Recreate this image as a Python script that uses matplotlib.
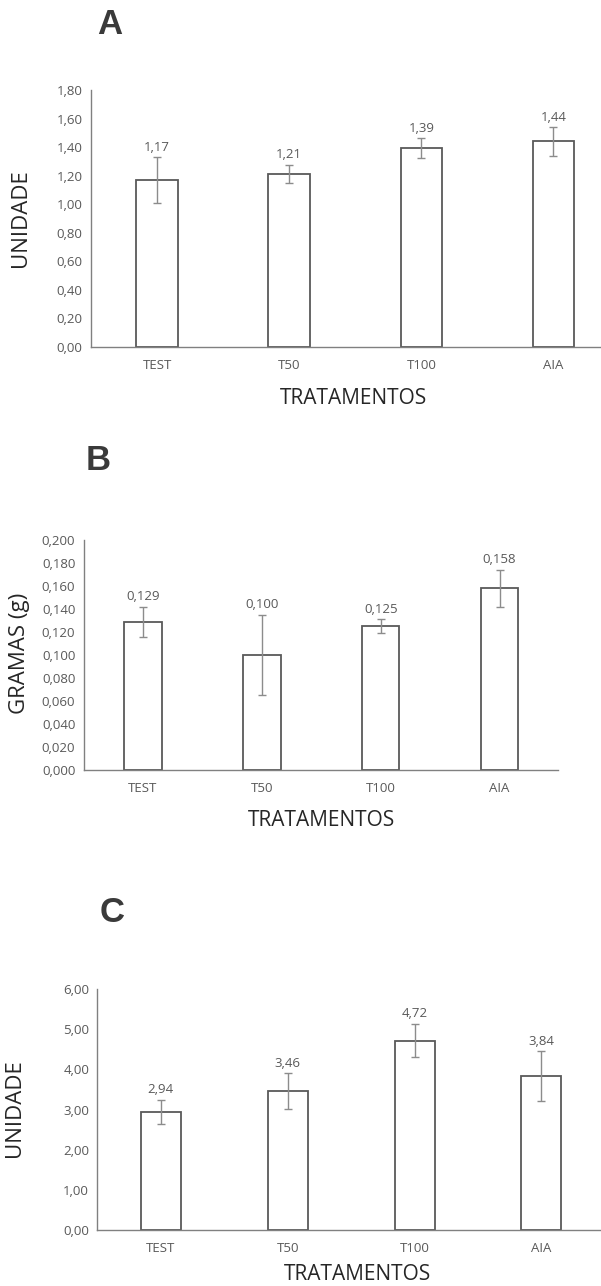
# Three bar charts with error bars (A, B, C)
import matplotlib.pyplot as plt

plt.rcParams['font.family'] = ['Open Sans', 'DejaVu Sans']

# Data
categories = ['TEST', 'T50', 'T100', 'AIA']

values_A = [1.17, 1.21, 1.39, 1.44]
errors_A = [0.16, 0.065, 0.07, 0.10]

values_B = [0.129, 0.100, 0.125, 0.158]
errors_B = [0.013, 0.035, 0.006, 0.016]

values_C = [2.94, 3.46, 4.72, 3.84]
errors_C = [0.31, 0.45, 0.42, 0.62]

W, H = 601, 1286
fig = plt.figure(figsize=(W / 100, H / 100), dpi=100)

tick_col = '#595959'
edge_col = '#595959'
text_col = '#262626'


def px_axes(left, right, top, bottom):
    return fig.add_axes([left / W, 1 - bottom / H, (right - left) / W, (bottom - top) / H])


def draw_panel(ax, vals, errs, ymax, step, decimals, xright):
    x = list(range(len(categories)))
    ax.bar(x, vals, width=0.315, color='white', edgecolor=edge_col, linewidth=1.3, zorder=2)
    ax.errorbar(x, vals, yerr=errs, fmt='none', ecolor='#8c8c8c', elinewidth=1,
                capsize=3, capthick=1, zorder=3)
    for xi, v, e in zip(x, vals, errs):
        lab = f'{v:.{decimals}f}'.replace('.', ',')
        ax.annotate(lab, (xi, v + e), xytext=(0, 10), textcoords='offset pixels',
                    ha='center', va='center', fontsize=9.5, color=tick_col)
    ax.set_xlim(-0.5, xright)
    ax.set_ylim(0, ymax)
    ticks = [i * step for i in range(int(round(ymax / step)) + 1)]
    ax.set_yticks(ticks)
    ax.set_yticklabels([f'{t:.{decimals}f}'.replace('.', ',') for t in ticks])
    ax.set_xticks(x)
    ax.set_xticklabels(categories)
    ax.tick_params(length=0, labelsize=9.5, colors=tick_col, pad=6)
    ax.tick_params(axis='x', pad=9)
    for s in ['top', 'right']:
        ax.spines[s].set_visible(False)
    for s in ['left', 'bottom']:
        ax.spines[s].set_color('#808080')
        ax.spines[s].set_linewidth(1)


axA = px_axes(91, 601, 90, 346.7)
draw_panel(axA, values_A, errors_A, 1.8, 0.2, 2, 3.36)

axB = px_axes(83.6, 557.8, 540, 770)
draw_panel(axB, values_B, errors_B, 0.2, 0.02, 3, 3.49)

axC = px_axes(97.4, 601, 989.2, 1230)
draw_panel(axC, values_C, errors_C, 6.0, 1.0, 2, 3.47)


def ftext(x, y, s, **kw):
    fig.text(x / W, 1 - y / H, s, **kw)


# Panel letters
for (lx, ly, s) in [(110, 25, 'A'), (98, 461, 'B'), (112, 912, 'C')]:
    ftext(lx, ly, s, fontsize=25, fontweight='bold', color='#3a3a3a',
          ha='center', va='center', family=['Liberation Sans', 'DejaVu Sans'])

# Axis labels
ftext(20.5, 218, 'UNIDADE', rotation=90, ha='center', va='center', fontsize=16, color=text_col)
ftext(20, 653, 'GRAMAS (g)', rotation=90, ha='center', va='center', fontsize=16, color=text_col)
ftext(15, 1108, 'UNIDADE', rotation=90, ha='center', va='center', fontsize=16, color=text_col)
ftext(354, 398, 'TRATAMENTOS', ha='center', va='center', fontsize=15, color=text_col)
ftext(321, 821, 'TRATAMENTOS', ha='center', va='center', fontsize=15, color=text_col)
ftext(357, 1275, 'TRATAMENTOS', ha='center', va='center', fontsize=15, color=text_col)

fig.savefig('out.png', dpi=100, facecolor='white')
